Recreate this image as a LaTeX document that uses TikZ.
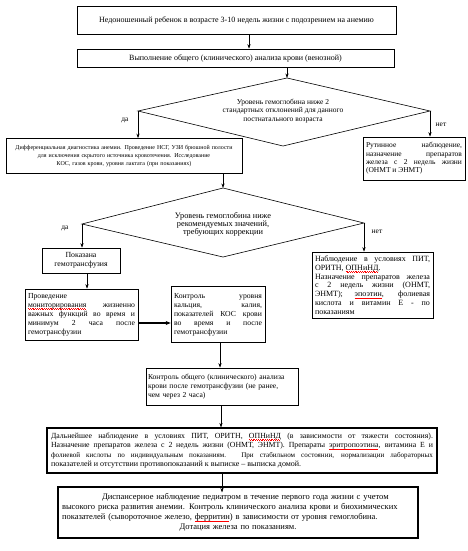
\documentclass[tikz,border=0pt]{standalone}
\usepackage{fontspec}
\setmainfont{Liberation Serif}
\usetikzlibrary{arrows.meta}
\newcommand\fz[2]{\fontsize{#1}{#2}\selectfont}
\newcommand\rw[1]{\setbox0\hbox{#1}\rlap{\textcolor{red}{\leaders\hbox{\raise-1.5pt\hbox{\rule{0.9pt}{0.45pt}}\raise-2.1pt\hbox{\rule{0.9pt}{0.45pt}}}\hskip\wd0}}#1}
\newcommand\lastc{\leftskip=0pt plus 1fil \rightskip=0pt plus -1fil \parfillskip=0pt plus 2fil\relax}
\begin{document}
\begin{tikzpicture}[x=1pt,y=-1pt,
  box/.style={draw, line width=0.7pt, inner sep=2pt, align=center},
  bbox/.style={draw, line width=1.1pt, inner sep=2pt},
  arr/.style={-{Stealth[length=4.5pt,width=3.2pt]}, line width=0.6pt},
  lab/.style={font=\fz{7.5}{9}, inner sep=0pt}]
\useasboundingbox (0,0) rectangle (467,551);
\fill[white] (0,0) rectangle (467,551);

% boxes
\node[box, minimum width=319, minimum height=28, font=\fz{8}{9}] (b1) at (236.5,20)
  {Недоношенный ребенок в возрасте 3-10 недель жизни с подозрением на анемию};
\node[box, minimum width=317, minimum height=18, font=\fz{8}{9}] (b2) at (235.5,58)
  {Выполнение общего (клинического) анализа крови (венозной)};

% diamond 1
\coordinate (d1t) at (287,78);
\coordinate (d1r) at (430,111);
\coordinate (d1b) at (283,146);
\coordinate (d1l) at (138,111);
\draw[line width=0.6pt] (d1t) -- (d1r) -- (d1b) -- (d1l) -- cycle;
\node[align=center, font=\fz{7.5}{8.5}, inner sep=0pt] (d1txt) at (283,111)
  {Уровень гемоглобина ниже 2\\стандартных отклонений для данного\\постнатального возраста};

\node[box, minimum width=236, minimum height=35, text width=232, font=\fz{6}{8}] (bl) at (124,156)
  {\lastc Дифференциальная диагностика анемии. Проведение НСГ, УЗИ брюшной полости\linebreak для исключения скрытого источника кровотечения. Исследование\linebreak КОС, газов крови, уровня лактата (при показаниях)};
\node[box, minimum width=102, minimum height=43, text width=96, inner sep=3pt, align=justify, font=\fz{7.5}{8.3}] (br) at (414,158.5)
  {Рутинное наблюдение,\linebreak назначение препаратов\linebreak железа с 2 недель жизни (ОНМТ и ЭНМТ)};

% diamond 2
\coordinate (d2t) at (223,188);
\coordinate (d2r) at (364,223);
\coordinate (d2b) at (223,257);
\coordinate (d2l) at (82,224);
\draw[line width=0.6pt] (d2t) -- (d2r) -- (d2b) -- (d2l) -- cycle;
\node[align=center, font=\fz{8.3}{8}, inner sep=0pt] (d2txt) at (223,224)
  {Уровень гемоглобина ниже\\рекомендуемых значений,\\требующих коррекции};

\node[box, minimum width=78, minimum height=25, font=\fz{7.8}{9.5}] (g) at (81,260.5)
  {Показана\\гемотрансфузия};
\node[box, minimum width=113, minimum height=51, text width=107, inner sep=3pt, align=justify, font=\fz{7.7}{9}] (m) at (81.5,314.5)
  {Проведение\\ \rw{мониторирования} жизненно\linebreak важных функций во время и\linebreak минимум 2 часа после\linebreak гемотрансфузии};
\node[box, minimum width=94, minimum height=56, text width=88, inner sep=3pt, align=justify, font=\fz{7.7}{9}] (k) at (218,314.5)
  {Контроль уровня\linebreak кальция, калия,\linebreak показателей КОС крови\linebreak во время и после\linebreak гемотрансфузии};
\node[box, minimum width=121, minimum height=66, text width=115, inner sep=3pt, align=justify, font=\fz{8}{8.8}] (n) at (372.5,285)
  {Наблюдение в условиях ПИТ,\linebreak ОРИТН, \rw{ОПНиНД}.\\ Назначение препаратов железа\linebreak с 2 недель жизни (ОНМТ,\linebreak ЭНМТ); \rw{эпоэтин}, фолиевая\linebreak кислота и витамин Е - по\linebreak показаниям};

\node[box, minimum width=152, minimum height=37, text width=148, inner sep=2pt, align=left, font=\fz{7.6}{9}] (c) at (222,386.5)
  {Контроль общего (клинического) анализа\\крови после гемотрансфузии (не ранее,\\чем через 2 часа)};

\node[bbox, minimum width=390, minimum height=45, text width=382, inner sep=4pt, align=justify, font=\fz{7.8}{9.5}] (f) at (242,450.5)
  {Дальнейшее наблюдение в условиях ПИТ, ОРИТН, \rw{ОПНиНД} (в зависимости от тяжести состояния).\linebreak
   Назначение препаратов железа с 2 недель жизни (ОНМТ, ЭНМТ). Препараты \rw{эритропоэтина}, витамина Е и\linebreak
   {\fz{7.1}{9.5}фолиевой кислоты по индивидуальным показаниям. При стабильном состоянии, нормализации лабораторных}\linebreak
   {\fz{8}{9.5}показателей и отсутствии противопоказаний к выписке – выписка домой.}};

\node[bbox, minimum width=360, minimum height=51, text width=352, inner sep=4pt, align=left, font=\fz{8.5}{10}] (e) at (238,512.5)
  {\hspace*{40pt}Диспансерное наблюдение педиатром в течение первого года жизни с учетом\\
   высокого риска развития анемии. Контроль клинического анализа крови и биохимических\\
   показателей (сывороточное железо, \rw{ферритин}) в зависимости от уровня гемоглобина.\\
   \makebox[\linewidth]{Дотация железа по показаниям.}};

% connectors
\draw[arr] ([xshift=12.5]b1.south) -- ([xshift=13.5]b2.north);
\draw[arr] ([xshift=51.5]b2.south) -- (d1t);
\draw[arr] (d1l) -- (d1l |- bl.north);
\draw[arr] (d1r) -- (d1r |- br.north);
\draw[arr] (d2t |- bl.south) -- (d2t);
\draw[arr] (d2l) -- (d2l |- g.north);
\draw[arr] (d2r) -- (d2r |- n.north);
\draw[arr] ([xshift=6]g.south) -- ([xshift=5.5]m.north);
\draw[-{Stealth[length=5pt,width=4pt]}, line width=1.6pt] ([yshift=-8.5]m.east) -- ([yshift=-8.5]k.west);
\draw[arr] ([xshift=2]k.south) -- ([xshift=-2]c.north);
\draw[arr] ([xshift=-1]c.south) -- ([xshift=-21]f.north);
\draw[arr] ([xshift=-20]f.south) -- ([xshift=-16,yshift=-6]e.north);

% labels
\node[lab] (l1) at (125,120) {да};
\node[lab] (l2) at (441,125) {нет};
\node[lab] (l3) at (65,228) {да};
\node[lab] (l4) at (377,232) {нет};
\end{tikzpicture}
\end{document}
